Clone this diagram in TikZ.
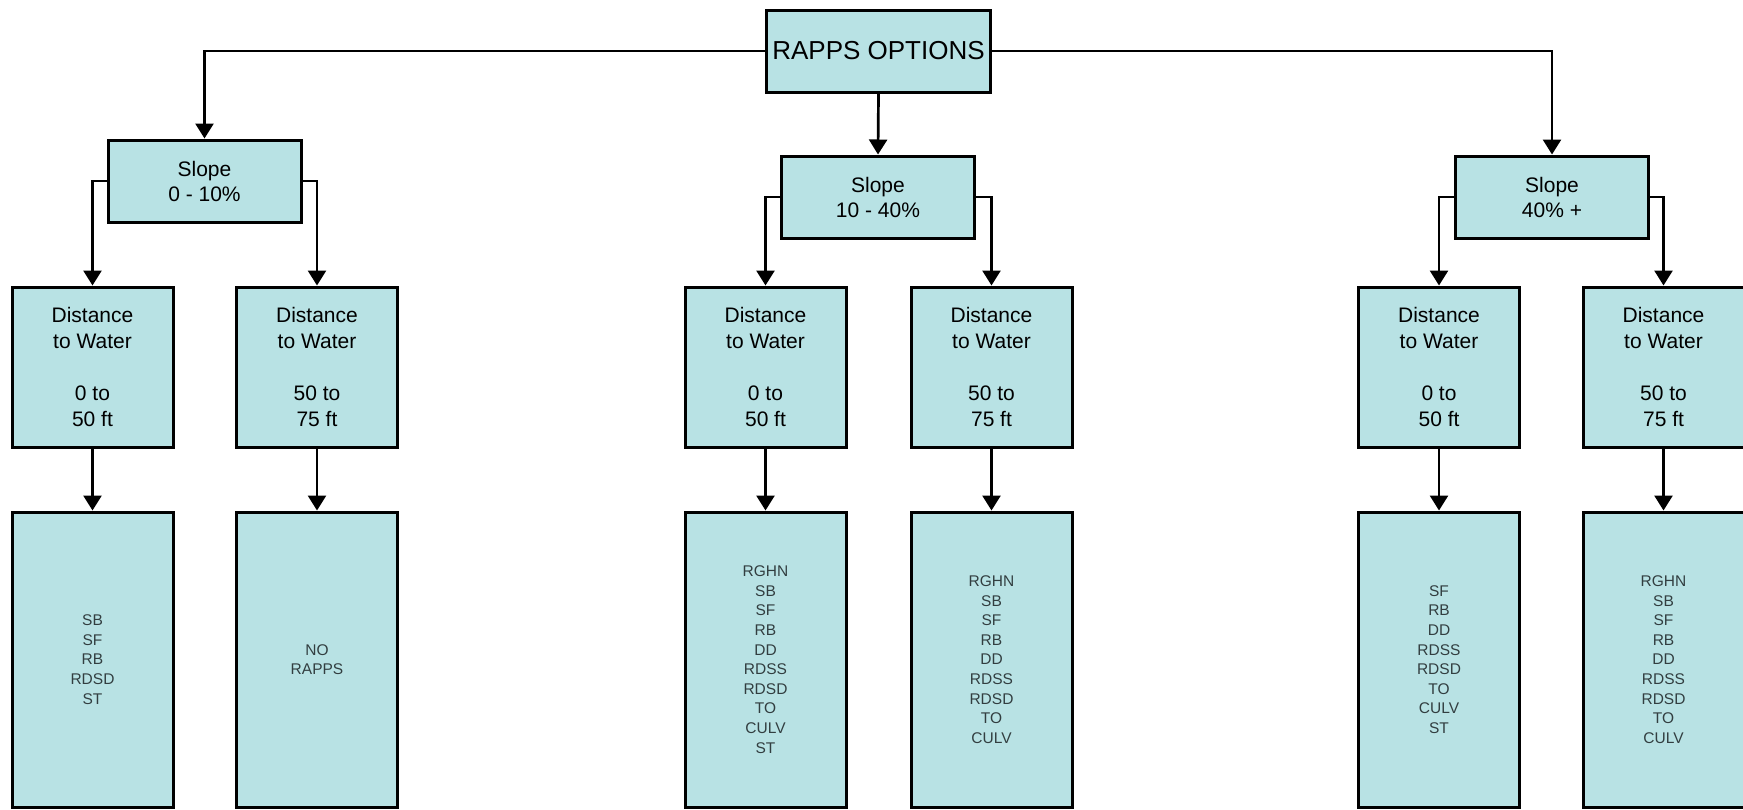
\documentclass[tikz,border=0pt]{standalone}
\usepackage{fontspec}
\setmainfont{Liberation Sans}
\usetikzlibrary{arrows.meta}

\definecolor{boxfill}{RGB}{184,226,228}
\definecolor{listtext}{RGB}{50,62,64}

\tikzset{
  box/.style={draw=black, line width=3pt, fill=boxfill, inner sep=0pt,
              align=center, text=black},
  rootbox/.style={box, minimum width=224pt, minimum height=82pt,
                  font=\fontsize{26}{30}\selectfont},
  slopebox/.style={box, minimum width=193pt, minimum height=82pt,
                   font=\fontsize{21}{25}\selectfont},
  distbox/.style={box, minimum width=161pt, minimum height=160pt,
                  font=\fontsize{21}{26}\selectfont},
  listbox/.style={box, minimum width=161pt, minimum height=295pt,
                  text=listtext, font=\fontsize{15.5}{19.6}\selectfont},
  conn/.style={line width=2.7pt, draw=black,
               -{Triangle[width=18pt,length=15pt]}},
}

\begin{document}
\begin{tikzpicture}[x=1pt, y=-1pt]
  \useasboundingbox (0,0) rectangle (1743,809);
  \fill[white] (0,0) rectangle (1743,809);

  % root
  \node[rootbox] (root) at (878.5,51) {RAPPS OPTIONS};

  % slope classes
  \node[slopebox] (s1) at (204.5,181) {Slope\\0 - 10\%};
  \node[slopebox] (s2) at (878,197)   {Slope\\10 - 40\%};
  \node[slopebox] (s3) at (1552,197)  {Slope\\40\% +};

  % distance to water
  \node[distbox] (d1) at (92.5,367)   {Distance\\to Water\\[26pt]0 to\\50 ft};
  \node[distbox] (d2) at (317,367)    {Distance\\to Water\\[26pt]50 to\\75 ft};
  \node[distbox] (d3) at (765.5,367)  {Distance\\to Water\\[26pt]0 to\\50 ft};
  \node[distbox] (d4) at (991.5,367)  {Distance\\to Water\\[26pt]50 to\\75 ft};
  \node[distbox] (d5) at (1439,367)   {Distance\\to Water\\[26pt]0 to\\50 ft};
  \node[distbox] (d6) at (1663.5,367) {Distance\\to Water\\[26pt]50 to\\75 ft};

  % applicable practices
  \node[listbox] (r1) at (92.5,659.5)   {SB\\SF\\RB\\RDSD\\ST};
  \node[listbox] (r2) at (317,659.5)    {NO\\RAPPS};
  \node[listbox] (r3) at (765.5,659.5)  {RGHN\\SB\\SF\\RB\\DD\\RDSS\\RDSD\\TO\\CULV\\ST};
  \node[listbox] (r4) at (991.5,659.5)  {RGHN\\SB\\SF\\RB\\DD\\RDSS\\RDSD\\TO\\CULV};
  \node[listbox] (r5) at (1439,659.5)   {SF\\RB\\DD\\RDSS\\RDSD\\TO\\CULV\\ST};
  \node[listbox] (r6) at (1663.5,659.5) {RGHN\\SB\\SF\\RB\\DD\\RDSS\\RDSD\\TO\\CULV};

  % connectors
  \draw[conn] (root.west) -| (s1.north);
  \draw[conn] (root.east) -| (s3.north);
  \draw[conn] (root.south) -- (s2.north);

  \draw[conn] (s1.west) -| (d1.north);
  \draw[conn] (s1.east) -| (d2.north);
  \draw[conn] (s2.west) -| (d3.north);
  \draw[conn] (s2.east) -| (d4.north);
  \draw[conn] (s3.west) -| (d5.north);
  \draw[conn] (s3.east) -| (d6.north);

  \draw[conn] (d1.south) -- (r1.north);
  \draw[conn] (d2.south) -- (r2.north);
  \draw[conn] (d3.south) -- (r3.north);
  \draw[conn] (d4.south) -- (r4.north);
  \draw[conn] (d5.south) -- (r5.north);
  \draw[conn] (d6.south) -- (r6.north);
\end{tikzpicture}
\end{document}
